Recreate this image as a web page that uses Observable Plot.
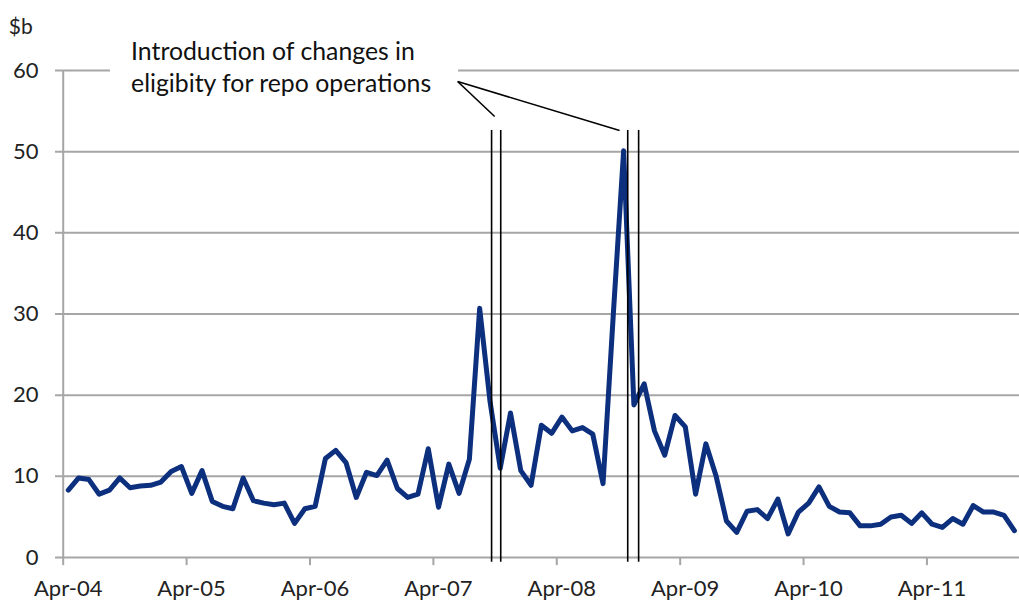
<!DOCTYPE html>
<html>
<head>
<meta charset="utf-8">
<script src="https://cdn.jsdelivr.net/npm/d3@7"></script>
<script src="https://cdn.jsdelivr.net/npm/@observablehq/plot@0.6"></script>
<style>
  body { margin: 0; background: #fff; }
  svg { display: block; }
</style>
</head>
<body>
<div id="chart"></div>
<script>
// Monthly values, Apr-04 .. Dec-11 ($b)
const values = [
  8.3, 9.8, 9.6, 7.8, 8.3, 9.8, 8.6, 8.8, 8.9, 9.3, 10.6, 11.2,   // Apr-04 .. Mar-05
  7.9, 10.7, 6.9, 6.3, 6.0, 9.8, 7.0, 6.7, 6.5, 6.7, 4.2, 6.0,    // Apr-05 .. Mar-06
  6.3, 12.2, 13.2, 11.7, 7.4, 10.5, 10.1, 12.0, 8.5, 7.4, 7.8, 13.4, // Apr-06 .. Mar-07
  6.2, 11.5, 7.9, 12.1, 30.7, 19.3, 11.0, 17.8, 10.7, 8.9, 16.3, 15.3, // Apr-07 .. Mar-08
  17.3, 15.6, 16.0, 15.2, 9.1, 30.0, 50.1, 18.8, 21.4, 15.6, 12.6, 17.5, // Apr-08 .. Mar-09
  16.1, 7.8, 14.0, 10.0, 4.5, 3.1, 5.7, 5.9, 4.8, 7.2, 2.9, 5.6,  // Apr-09 .. Mar-10
  6.7, 8.7, 6.3, 5.6, 5.5, 3.9, 3.9, 4.1, 5.0, 5.2, 4.2, 5.5,     // Apr-10 .. Mar-11
  4.1, 3.7, 4.8, 4.1, 6.4, 5.6, 5.6, 5.2, 3.3                     // Apr-11 .. Dec-11
];
// x positions in months since 1 Apr 2004 (values are mid-month)
const monthPos = values.map((_, i) => i + 0.5);
const series = values.map((v, i) => ({m: monthPos[i], v}));

// Dates of the eligibility changes, in months since 1 Apr 2004
const events = [41.66, 42.55, 54.9, 55.96];

const tickMonths = [0, 12, 24, 36, 48, 60, 72, 84];
const tickLabels = ["Apr-04", "Apr-05", "Apr-06", "Apr-07", "Apr-08", "Apr-09", "Apr-10", "Apr-11"];
const yTicks = [0, 10, 20, 30, 40, 50, 60];

const annotationText = "Introduction of changes in\neligibity for repo operations";
const unitLabel = "$b";

const gridColor = "#a6a6a6";

const chart = Plot.plot({
  width: 1019,
  height: 601,
  marginLeft: 62.7,
  marginRight: 0,
  marginTop: 70,
  marginBottom: 44,
  x: {type: "linear", domain: [0, 93], axis: null},
  y: {domain: [0, 60], axis: null},
  style: {fontFamily: "Lato, sans-serif", fontSize: "22px", color: "#222", background: "white", overflow: "visible"},
  marks: [
    // horizontal gridlines (with left tick stubs)
    Plot.ruleY(yTicks, {x1: -0.75, x2: 93, stroke: gridColor, strokeWidth: 2}),
    // white box behind annotation
    Plot.rect([0], {x1: 4.6, x2: 38.45, y1: 56.3, y2: 64.3, fill: "white"}),
    // vertical axis line
    Plot.ruleX([0], {stroke: gridColor, strokeWidth: 2}),
    // x tick marks
    Plot.ruleX(tickMonths, {y1: 0, y2: -1, stroke: gridColor, strokeWidth: 2}),
    // x tick labels
    Plot.text(tickMonths, {x: d => d, y: 0, text: (d, i) => tickLabels[i], lineAnchor: "top", dy: 23, dx: 5, fill: "#222", fontSize: 22}),
    // y tick labels
    Plot.text(yTicks, {x: 0, y: d => d, text: d => String(d), textAnchor: "end", dx: -24.7, fill: "#222", fontSize: 22}),
    // series
    Plot.line(series, {x: "m", y: "v", stroke: "#0c2f7e", strokeWidth: 5, strokeLinejoin: "round", strokeLinecap: "round"}),
    // event lines
    Plot.ruleX(events, {y1: -0.6, y2: 52.6, stroke: "black", strokeWidth: 1.6}),
    // callout lines
    Plot.link([0], {x1: 38.36, y1: 58.64, x2: 41.96, y2: 54.33, stroke: "black", strokeWidth: 1.6}),
    Plot.link([0], {x1: 38.36, y1: 58.64, x2: 54.11, y2: 52.6, stroke: "black", strokeWidth: 1.6}),
    // annotation text
    Plot.text([annotationText], {x: 6.6, y: 60.6, textAnchor: "start", lineHeight: 1.31, fill: "#111", fontSize: 24.8}),
    // unit label
    Plot.text([unitLabel], {x: -5.3, y: 65.3, textAnchor: "start", fill: "#222", fontSize: 21})
  ]
});
document.getElementById("chart").appendChild(chart);
</script>
</body>
</html>
